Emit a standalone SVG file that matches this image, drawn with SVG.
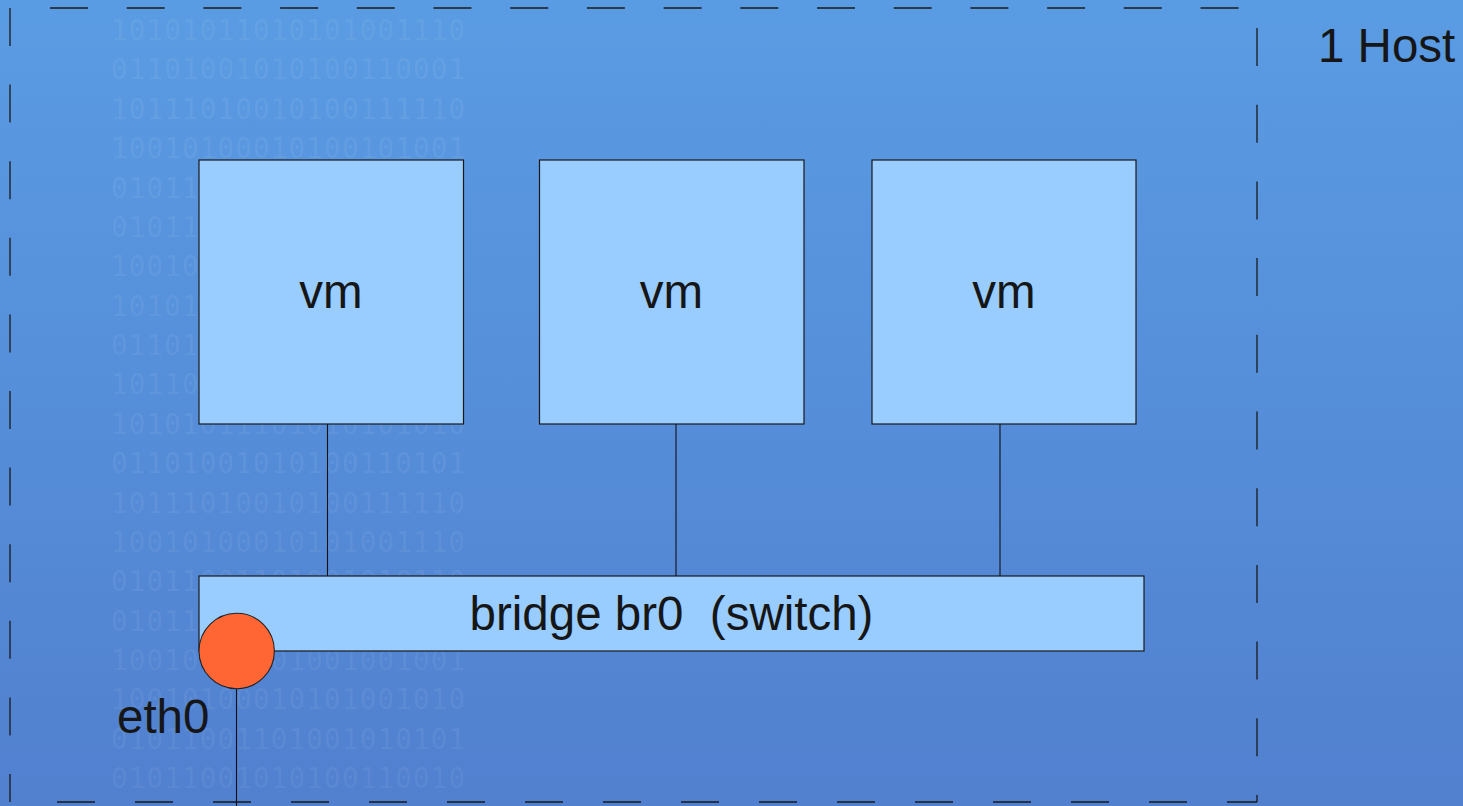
<svg xmlns="http://www.w3.org/2000/svg" width="1463" height="806" viewBox="0 0 1463 806">
<defs>
<linearGradient id="bg" x1="0" y1="0" x2="0" y2="1">
<stop offset="0" stop-color="#5a9ce3"/>
<stop offset="1" stop-color="#5180cf"/>
</linearGradient>
<style>
.bin{font-family:"DejaVu Sans Mono",monospace;font-size:27.5px;fill:#ffffff;fill-opacity:0.08}
.box{fill:#99ccff;stroke:#1a1a1a;stroke-width:1.2}
.lbl{font-family:"Liberation Sans",Arial,sans-serif;font-size:47.5px;fill:#161616}
.dash{stroke:#1a1a1a;stroke-width:1.3;fill:none}
.conn{stroke:#111;stroke-width:1.1;fill:none}
</style>
</defs>
<rect x="0" y="0" width="1463" height="806" fill="url(#bg)"/>
<g id="watermark">
<text class="bin" x="111" y="40" textLength="354" lengthAdjust="spacing">10101011010101001110</text>
<text class="bin" x="111" y="79.4" textLength="354" lengthAdjust="spacing">01101001010100110001</text>
<text class="bin" x="111" y="118.7" textLength="354" lengthAdjust="spacing">10111010010100111110</text>
<text class="bin" x="111" y="158.1" textLength="354" lengthAdjust="spacing">10010100010100101001</text>
<text class="bin" x="111" y="197.5" textLength="354" lengthAdjust="spacing">01011100101010010110</text>
<text class="bin" x="111" y="236.9" textLength="354" lengthAdjust="spacing">01011010010101001010</text>
<text class="bin" x="111" y="276.2" textLength="354" lengthAdjust="spacing">10010011101001001001</text>
<text class="bin" x="111" y="315.6" textLength="354" lengthAdjust="spacing">10101011010101001010</text>
<text class="bin" x="111" y="355" textLength="354" lengthAdjust="spacing">01101001010100110101</text>
<text class="bin" x="111" y="394.3" textLength="354" lengthAdjust="spacing">10110100101001111100</text>
<text class="bin" x="111" y="433.7" textLength="354" lengthAdjust="spacing">10101011101010101010</text>
<text class="bin" x="111" y="473.1" textLength="354" lengthAdjust="spacing">01101001010100110101</text>
<text class="bin" x="111" y="512.5" textLength="354" lengthAdjust="spacing">10111010010100111110</text>
<text class="bin" x="111" y="551.8" textLength="354" lengthAdjust="spacing">10010100010101001110</text>
<text class="bin" x="111" y="591.2" textLength="354" lengthAdjust="spacing">01011001101001010110</text>
<text class="bin" x="111" y="630.6" textLength="354" lengthAdjust="spacing">01011010110100101001</text>
<text class="bin" x="111" y="669.9" textLength="354" lengthAdjust="spacing">10010011101001001001</text>
<text class="bin" x="111" y="709.3" textLength="354" lengthAdjust="spacing">10010100010101001010</text>
<text class="bin" x="111" y="748.7" textLength="354" lengthAdjust="spacing">01011001101001010101</text>
<text class="bin" x="111" y="788" textLength="354" lengthAdjust="spacing">01011001010100110010</text>
</g>
<g id="host">
<line class="dash" x1="50" y1="8" x2="1257" y2="8" stroke-dasharray="38 38.7"/>
<line class="dash" x1="10" y1="8" x2="10" y2="802" stroke-dasharray="38 38.6"/>
<line class="dash" x1="1257" y1="28" x2="1257" y2="802" stroke-dasharray="38 38.7"/>
<line class="dash" x1="57" y1="802" x2="1257" y2="802" stroke-dasharray="38 40"/>
<text class="lbl" x="1318" y="62">1 Host</text>
</g>
<g id="connectors">
<line class="conn" x1="327.5" y1="424" x2="327.5" y2="576"/>
<line class="conn" x1="676" y1="424" x2="676" y2="576"/>
<line class="conn" x1="1000" y1="424" x2="1000" y2="576"/>
<line class="conn" x1="236.5" y1="689" x2="236.5" y2="806"/>
</g>
<g id="vm1">
<rect class="box" x="199" y="160" width="264.5" height="264"/>
<text class="lbl" x="331" y="308" text-anchor="middle">vm</text>
</g>
<g id="vm2">
<rect class="box" x="539.5" y="160" width="264.5" height="264"/>
<text class="lbl" x="671.5" y="308" text-anchor="middle">vm</text>
</g>
<g id="vm3">
<rect class="box" x="872" y="160" width="264" height="264"/>
<text class="lbl" x="1004" y="308" text-anchor="middle">vm</text>
</g>
<g id="bridge">
<rect class="box" x="199" y="576" width="945" height="75"/>
<text class="lbl" x="671.5" y="630" text-anchor="middle" xml:space="preserve">bridge br0  (switch)</text>
</g>
<g id="eth0">
<circle cx="236.7" cy="651" r="37.7" fill="#ff6633" stroke="#222" stroke-width="1.1"/>
<text class="lbl" x="117" y="733">eth0</text>
</g>
</svg>
